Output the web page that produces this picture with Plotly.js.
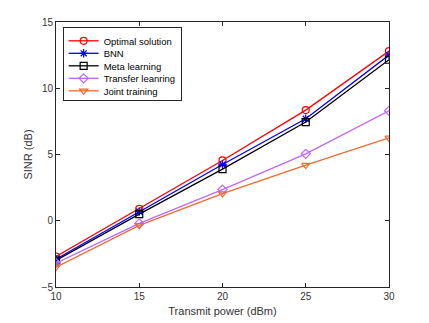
<!DOCTYPE html>
<html>
<head>
<meta charset="utf-8">
<script src="https://cdn.plot.ly/plotly-3.0.1.min.js"></script>
<style>
body { margin: 0; background: #fff; }
#Grafico { width: 429px; height: 323px; }
</style>
</head>
<body>
<div id="Grafico"></div>
<script>
let potencia = [10, 15, 20, 25, 30];
let optimo = [-2.7, 0.9, 4.55, 8.35, 12.8];
let bnn = [-2.9, 0.7, 4.25, 7.7, 12.5];
let meta = [-3.0, 0.5, 3.9, 7.45, 12.15];
let transfer = [-3.2, -0.2, 2.35, 5.05, 8.3];
let conjunto = [-3.5, -0.35, 2.05, 4.2, 6.25];

let nombres = ['Optimal solution', 'BNN', 'Meta learning', 'Transfer leanring', 'Joint training'];
let series = [optimo, bnn, meta, transfer, conjunto];
let colores = ['#ff0000', '#0000ff', '#000000', '#bf66ff', '#ee6a2e'];
let simbolos = ['circle-open', 'asterisk-open', 'square-open', 'diamond-open', 'triangle-down-open'];

let trazas = series.map(function (s, i) {
	return {
		x: potencia,
		y: s,
		name: nombres[i],
		type: 'scatter',
		mode: 'lines+markers',
		line: { color: colores[i], width: 1.3 },
		marker: { symbol: simbolos[i], size: 7, color: colores[i], line: { color: colores[i], width: 1.2 } }
	};
});

let ejeComun = {
	showgrid: false,
	zeroline: false,
	showline: true,
	mirror: 'ticks',
	linecolor: '#262626',
	linewidth: 1,
	ticks: 'inside',
	ticklen: 4,
	tickcolor: '#262626',
	tickfont: { family: 'Liberation Sans, Arial, sans-serif', size: 10, color: '#333333' }
};

let layout = {
	width: 429,
	height: 323,
	margin: { l: 56, r: 40, t: 22, b: 36 },
	paper_bgcolor: '#ffffff',
	plot_bgcolor: '#ffffff',
	font: { family: 'Liberation Sans, Arial, sans-serif', size: 10, color: '#262626' },
	xaxis: Object.assign({}, ejeComun, {
		range: [10, 30],
		tickvals: [10, 15, 20, 25, 30],
		title: { text: 'Transmit power (dBm)', standoff: 6, font: { size: 11, color: '#333333' } }
	}),
	yaxis: Object.assign({}, ejeComun, {
		range: [-5, 15],
		tickvals: [-5, 0, 5, 10, 15],
		title: { text: 'SINR (dB)', standoff: 6, font: { size: 11, color: '#333333' } }
	}),
	showlegend: true,
	legend: {
		x: 0.02, y: 0.98,
		xanchor: 'left', yanchor: 'top',
		bgcolor: '#ffffff',
		bordercolor: '#262626',
		borderwidth: 1,
		font: { size: 9.5, color: '#000000' },
		tracegroupgap: 0,
		itemwidth: 30
	}
};

let contenedor = document.getElementById("Grafico");
Plotly.newPlot(contenedor, trazas, layout, { displayModeBar: false, staticPlot: true }).then(function () {
	// apretar la leyenda como en MATLAB
	let leyenda = contenedor.querySelector('g.legend');
	if (!leyenda) return;
	let items = Array.from(leyenda.querySelectorAll('g.traces'));
	let paso = 12.5;
	let ys = items.map(function (g) {
		let m = /translate\(([-\d.]+),\s*([-\d.]+)\)/.exec(g.getAttribute('transform') || '');
		return m ? [parseFloat(m[1]), parseFloat(m[2])] : [0, 0];
	});
	if (!ys.length) return;
	let y0 = ys[0][1] - 2;
	let ultimoViejo = ys[ys.length - 1][1];
	items.forEach(function (g, i) {
		g.setAttribute('transform', 'translate(' + ys[i][0] + ',' + (y0 + i * paso) + ')');
	});
	let ultimoNuevo = y0 + (items.length - 1) * paso;
	let fondo = leyenda.querySelector('rect.bg');
	let alto = parseFloat(fondo.getAttribute('height'));
	let nuevoAlto = alto - (ultimoViejo - ultimoNuevo) - 5;
	fondo.setAttribute('height', nuevoAlto);
	let caja = leyenda.querySelector('g.scrollbox');
	if (caja) caja.removeAttribute('clip-path');
});
</script>
</body>
</html>
